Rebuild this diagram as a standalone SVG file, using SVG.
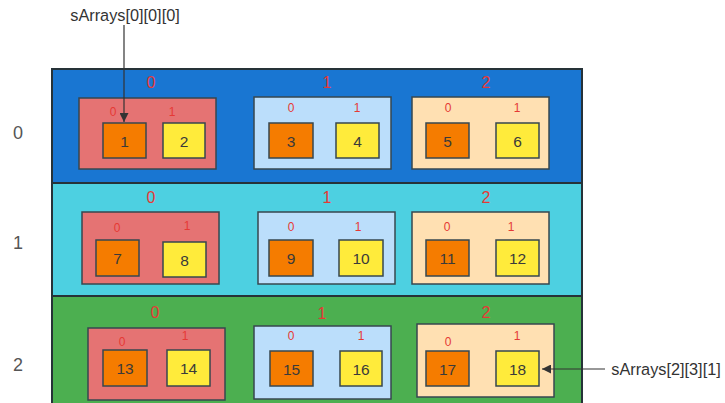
<svg xmlns="http://www.w3.org/2000/svg" width="725" height="403" viewBox="0 0 725 403">
<style>
text{font-family:"Liberation Sans",Arial,sans-serif;text-anchor:middle;dominant-baseline:central}
.band{stroke:#263238;stroke-width:2}
.g{stroke:#37474f;stroke-width:1.5}
.c{stroke:#37474f;stroke-width:1.5}
.or{fill:#f57c00}.ye{fill:#ffeb3b}
.rd{fill:#e57373}.lb{fill:#bbdefb}.pe{fill:#ffe0b2}
.num{font-size:15.5px;fill:#3a3a3a}
.bi{font-size:16px;fill:#e53935}
.si{font-size:12px;fill:#e53935}
.rl{font-size:18px;fill:#555}
.ann{font-size:16.3px;fill:#333}
.cn{stroke:#333;stroke-width:1.2;fill:none}
</style>
<defs>
<marker id="ah" viewBox="0 0 10 10" refX="10" refY="5" markerWidth="9" markerHeight="9" markerUnits="userSpaceOnUse" orient="auto"><path d="M0,0 L10,5 L0,10 z" fill="#333"/></marker>
</defs>
<rect width="725" height="403" fill="#fff"/>
<g id="row0">
<rect class="band" x="52" y="69" width="530" height="114" fill="#1976d2"/>
<text class="rl" x="18" y="133">0</text>
<g id="r0g0"><rect class="g rd" x="79" y="98" width="137" height="71"/><text class="bi" x="151" y="82">0</text><text class="si" x="113" y="112">0</text><text class="si" x="172" y="112">1</text>
<rect class="c or" x="103" y="123" width="43" height="35"/><text class="num" x="124.5" y="141">1</text>
<rect class="c ye" x="163" y="123" width="42" height="35"/><text class="num" x="184" y="141">2</text></g>
<g id="r0g1"><rect class="g lb" x="254" y="97" width="137" height="72"/><text class="bi" x="327" y="82">1</text><text class="si" x="291" y="108">0</text><text class="si" x="357" y="108">1</text>
<rect class="c or" x="269" y="123" width="44" height="35"/><text class="num" x="291" y="141">3</text>
<rect class="c ye" x="336" y="123" width="43" height="35"/><text class="num" x="357.5" y="141">4</text></g>
<g id="r0g2"><rect class="g pe" x="412" y="97" width="137" height="72"/><text class="bi" x="486" y="82">2</text><text class="si" x="448" y="108">0</text><text class="si" x="517" y="108">1</text>
<rect class="c or" x="426" y="123" width="43" height="35"/><text class="num" x="447.5" y="141">5</text>
<rect class="c ye" x="496" y="123" width="43" height="35"/><text class="num" x="517.5" y="141">6</text></g>
</g>
<g id="row1">
<rect class="band" x="52" y="183" width="530" height="113" fill="#4dd0e1"/>
<text class="rl" x="18" y="243">1</text>
<g id="r1g0"><rect class="g rd" x="82" y="212" width="137" height="72"/><text class="bi" x="151" y="197">0</text><text class="si" x="117" y="228">0</text><text class="si" x="187" y="226">1</text>
<rect class="c or" x="96" y="240" width="43" height="36"/><text class="num" x="117.5" y="258">7</text>
<rect class="c ye" x="163" y="242" width="43" height="35"/><text class="num" x="184.5" y="260">8</text></g>
<g id="r1g1"><rect class="g lb" x="258" y="212" width="137" height="72"/><text class="bi" x="327" y="197">1</text><text class="si" x="291" y="227">0</text><text class="si" x="358" y="227">1</text>
<rect class="c or" x="269" y="240" width="44" height="36"/><text class="num" x="291" y="258">9</text>
<rect class="c ye" x="339" y="240" width="44" height="36"/><text class="num" x="361" y="258">10</text></g>
<g id="r1g2"><rect class="g pe" x="412" y="212" width="137" height="72"/><text class="bi" x="486" y="197">2</text><text class="si" x="447" y="227">0</text><text class="si" x="511" y="227">1</text>
<rect class="c or" x="426" y="240" width="43" height="36"/><text class="num" x="447.5" y="258">11</text>
<rect class="c ye" x="496" y="240" width="43" height="36"/><text class="num" x="517.5" y="258">12</text></g>
</g>
<g id="row2">
<rect class="band" x="52" y="296" width="530" height="110" fill="#4caf50"/>
<text class="rl" x="18" y="365">2</text>
<g id="r2g0"><rect class="g rd" x="88" y="328" width="137" height="72"/><text class="bi" x="155" y="312">0</text><text class="si" x="122" y="342">0</text><text class="si" x="185" y="336">1</text>
<rect class="c or" x="103" y="350" width="44" height="36"/><text class="num" x="125" y="368">13</text>
<rect class="c ye" x="167" y="350" width="43" height="36"/><text class="num" x="188.5" y="368">14</text></g>
<g id="r2g1"><rect class="g lb" x="254" y="326" width="137" height="73"/><text class="bi" x="322" y="313">1</text><text class="si" x="291" y="336">0</text><text class="si" x="361" y="336">1</text>
<rect class="c or" x="270" y="351" width="43" height="35"/><text class="num" x="291.5" y="369">15</text>
<rect class="c ye" x="340" y="351" width="42" height="35"/><text class="num" x="361" y="369">16</text></g>
<g id="r2g2"><rect class="g pe" x="417" y="324" width="137" height="73"/><text class="bi" x="486" y="312">2</text><text class="si" x="448" y="342">0</text><text class="si" x="517" y="336">1</text>
<rect class="c or" x="426" y="351" width="43" height="35"/><text class="num" x="447.5" y="369">17</text>
<rect class="c ye" x="496" y="351" width="43" height="35"/><text class="num" x="517.5" y="369">18</text></g>
</g>
<g id="connectors">
<line class="cn" x1="124" y1="25" x2="124" y2="122" marker-end="url(#ah)"/>
<line class="cn" x1="605" y1="369" x2="542" y2="369" marker-end="url(#ah)"/>
</g>
<g id="annotations">
<text class="ann" x="125" y="15">sArrays[0][0][0]</text>
<text class="ann" x="666" y="369">sArrays[2][3][1]</text>
</g>
</svg>
